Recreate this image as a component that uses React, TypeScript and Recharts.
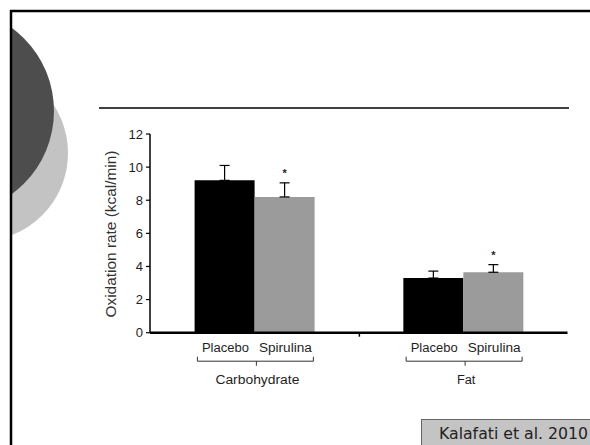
import React from "react";
import { Bar, BarChart, ErrorBar, LabelList, XAxis, YAxis } from "recharts";

const categories = ["Carbohydrate", "Fat"];
const placebo = [9.2, 3.3];
const placeboErr = [0.9, 0.42];
const spirulina = [8.2, 3.65];
const spirulinaErr = [0.85, 0.46];
const significance = ["*", "*"];
const groupLabels = ["Placebo", "Spirulina"];
const yTicks = [0, 2, 4, 6, 8, 10, 12];

const data = categories.map((c, i) => ({
  category: c,
  placebo: placebo[i],
  placeboErr: [0, placeboErr[i]],
  spirulina: spirulina[i],
  spirulinaErr: [0, spirulinaErr[i]],
  sig: significance[i],
}));

const FONT = "'Liberation Sans', Arial, sans-serif";
const TEXT = "#1e1e1e";

// the slide image is squashed, so the labels get stretched to their widths
const groupTitleWidth = [84, 18.5];

function GroupTick(props: any) {
  const { x, y, payload, index } = props;
  return (
    <g fontFamily={FONT} fill={TEXT}>
      <text
        x={x - 29}
        y={y + 19.5}
        textAnchor="middle"
        fontSize={12.5}
        textLength={47}
        lengthAdjust="spacingAndGlyphs"
      >
        {groupLabels[0]}
      </text>
      <text
        x={x + 31}
        y={y + 19.5}
        textAnchor="middle"
        fontSize={12.5}
        textLength={53}
        lengthAdjust="spacingAndGlyphs"
      >
        {groupLabels[1]}
      </text>
      <path
        d={`M${x - 57},${y + 24} V${y + 28.5} H${x + 59} V${y + 24} M${x + 2},${y + 28.5} V${y + 33}`}
        stroke="#333"
        strokeWidth={1}
        fill="none"
      />
      <text
        x={x + 3}
        y={y + 51.5}
        textAnchor="middle"
        fontSize={12.5}
        textLength={groupTitleWidth[index]}
        lengthAdjust="spacingAndGlyphs"
      >
        {payload.value}
      </text>
      {index === 0 && (
        <line x1={x + 105} x2={x + 105} y1={y} y2={y + 4} stroke="#000" strokeWidth={1.5} />
      )}
    </g>
  );
}

function SigLabel(props: any) {
  const { x, y, width, height, index, value } = props;
  const pxPerUnit = height / spirulina[index];
  const errTop = y - spirulinaErr[index] * pxPerUnit;
  return (
    <text
      x={x + width / 2}
      y={errTop - 6}
      textAnchor="middle"
      fontFamily={FONT}
      fontSize={11}
      fontWeight="bold"
      fill={TEXT}
    >
      {value}
    </text>
  );
}

export default function App() {
  return (
    <div
      style={{
        position: "absolute",
        left: 0,
        top: 0,
        width: 590,
        height: 445,
        background: "#fff",
        overflow: "hidden",
      }}
    >
      <svg width={590} height={445} style={{ position: "absolute", left: 0, top: 0 }}>
        <defs>
          <clipPath id="slideClip">
            <rect x={11} y={11} width={600} height={440} />
          </clipPath>
        </defs>
        <g clipPath="url(#slideClip)">
          <circle cx={-20} cy={153} r={88} fill="#c3c3c3" />
          <circle cx={-49} cy={111} r={103} fill="#4d4d4d" />
        </g>
        <line x1={11} x2={11} y1={10} y2={445} stroke="#000" strokeWidth={2.5} />
        <line x1={10} x2={590} y1={11} y2={11} stroke="#000" strokeWidth={2.5} />
        <line x1={99} x2={569} y1={108} y2={108} stroke="#000" strokeWidth={1.3} />
        <text
          transform="translate(116,234) rotate(-90)"
          textAnchor="middle"
          fontFamily={FONT}
          fontSize={14}
          fill="#333"
          textLength={167}
          lengthAdjust="spacingAndGlyphs"
        >
          Oxidation rate  (kcal/min)
        </text>
        <rect x={421.5} y={419.5} width={180} height={40} fill="#c4c4c4" stroke="#666" strokeWidth={1} />
        <text
          x={439}
          y={438.5}
          fontFamily="'DejaVu Sans', Verdana, sans-serif"
          fontSize={15}
          fill="#222"
          textLength={149}
          lengthAdjust="spacingAndGlyphs"
        >
          Kalafati et al. 2010
        </text>
      </svg>
      <div style={{ position: "absolute", left: 0, top: 0 }}>
        <BarChart
          width={590}
          height={445}
          data={data}
          margin={{ top: 134, right: 22.5, bottom: 52.3, left: 90 }}
          barCategoryGap={44.6}
          barGap={0}
        >
          <XAxis
            dataKey="category"
            axisLine={{ stroke: "#000", strokeWidth: 2.5 }}
            tickLine={false}
            tickSize={0}
            tickMargin={0}
            height={60}
            interval={0}
            tick={<GroupTick />}
          />
          <YAxis
            domain={[0, 12]}
            ticks={yTicks}
            width={60}
            axisLine={{ stroke: "#000", strokeWidth: 1.5 }}
            tickLine={{ stroke: "#000", strokeWidth: 1.2 }}
            tickSize={4}
            tickMargin={3}
            tick={{ fill: TEXT, fontSize: 13, fontFamily: FONT }}
          />
          <Bar dataKey="placebo" fill="#000" isAnimationActive={false}>
            <ErrorBar dataKey="placeboErr" width={5} stroke="#000" strokeWidth={1.2} direction="y" />
          </Bar>
          <Bar dataKey="spirulina" fill="#9b9b9b" isAnimationActive={false}>
            <ErrorBar dataKey="spirulinaErr" width={5} stroke="#000" strokeWidth={1.2} direction="y" />
            <LabelList dataKey="sig" content={<SigLabel />} />
          </Bar>
        </BarChart>
      </div>
    </div>
  );
}
